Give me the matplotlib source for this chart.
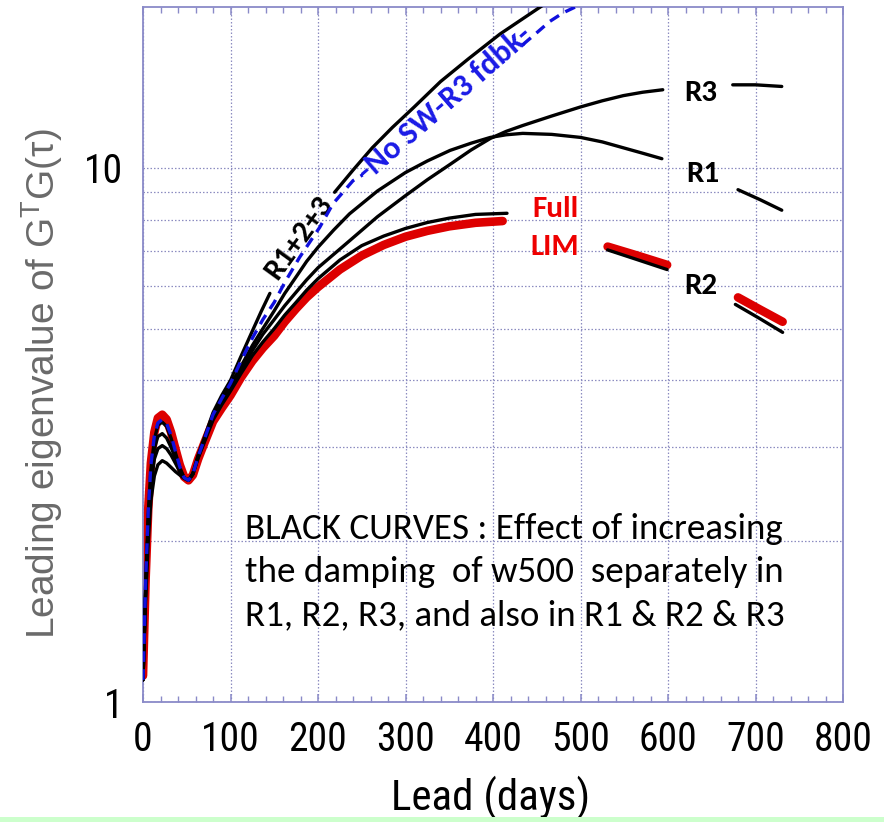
import numpy as np
import matplotlib
matplotlib.use("Agg")
import matplotlib.pyplot as plt
from matplotlib import font_manager
from matplotlib.ticker import FixedLocator, NullFormatter, FixedFormatter
from matplotlib.patches import Rectangle

nan = np.nan

# ---------------- data ----------------
full_x = [0, 3, 6, 9, 13, 17, 22, 27, 32, 37, 42, 47, 52, 57, 63, 70, 80, 90, 100, 112, 125, 137,
          150, 162, 175, 187, 200, 225, 250, 275, 300, 325, 350, 380, 411,
          470, 531, 565, 599, 640, 680, 705, 731]
full_y = [1.12, 1.7, 2.3, 2.8, 3.2, 3.4, 3.45, 3.38, 3.2, 2.98, 2.78, 2.64, 2.6, 2.66, 2.85, 3.05,
          3.35, 3.55, 3.75, 4.05, 4.35, 4.6, 4.85, 5.15, 5.45, 5.72, 5.98, 6.45, 6.85, 7.17, 7.43,
          7.62, 7.77, 7.89, 7.95, nan, 7.12, 6.85, 6.58, nan, 5.72, 5.43, 5.15]

r2_x = [0, 3, 6, 9, 13, 17, 22, 27, 32, 37, 42, 47, 52, 57, 63, 70, 80, 90, 100, 112, 125, 137,
        150, 162, 175, 187, 200, 225, 250, 275, 300, 325, 350, 380, 416,
        470, 531, 565, 599, 640, 677, 705, 731]
r2_y = [1.1, 1.65, 2.25, 2.72, 3.1, 3.3, 3.34, 3.28, 3.12, 2.93, 2.75, 2.63, 2.6, 2.67, 2.86, 3.06,
        3.37, 3.6, 3.82, 4.12, 4.45, 4.72, 5.0, 5.3, 5.6, 5.9, 6.2, 6.72, 7.15, 7.45, 7.7, 7.9,
        8.05, 8.18, 8.22, nan, 7.02, 6.73, 6.45, nan, 5.55, 5.22, 4.92]

r1_x = [0, 3, 6, 9, 13, 17, 22, 27, 32, 37, 42, 47, 52, 57, 63, 70, 80, 90, 100, 112, 125, 137,
        150, 162, 175, 187, 200, 218, 236, 268, 300, 325, 351, 375, 397, 415, 434, 467, 500, 525,
        549, 571, 593, 640, 680, 705, 730]
r1_y = [1.1, 1.6, 2.15, 2.55, 2.85, 2.98, 3.02, 2.98, 2.9, 2.8, 2.7, 2.63, 2.6, 2.67, 2.88, 3.1,
        3.42, 3.68, 3.92, 4.25, 4.65, 5.0, 5.4, 5.82, 6.25, 6.68, 7.1, 7.65, 8.2, 9.05, 9.8, 10.3,
        10.78, 11.12, 11.4, 11.53, 11.6, 11.55, 11.4, 11.18, 10.9, 10.65, 10.4, nan, 9.1, 8.72,
        8.33]

r3_x = [0, 3, 6, 9, 13, 17, 22, 27, 32, 37, 42, 47, 52, 57, 63, 70, 80, 90, 100, 112, 125, 137,
        150, 162, 175, 187, 200, 236, 268, 300, 325, 351, 375, 397, 415, 434, 467, 500, 525, 549,
        571, 594, 640, 674, 700, 730]
r3_y = [1.1, 1.62, 2.2, 2.62, 2.98, 3.14, 3.18, 3.12, 3.0, 2.86, 2.72, 2.63, 2.6, 2.67, 2.87, 3.08,
        3.4, 3.65, 3.86, 4.18, 4.55, 4.88, 5.2, 5.52, 5.85, 6.17, 6.5, 7.3, 8.1, 8.87, 9.5, 10.15,
        10.8, 11.35, 11.7, 12.0, 12.5, 13.0, 13.35, 13.65, 13.85, 14.0, nan, 14.3, 14.3, 14.2]

r123_x = [0, 3, 6, 9, 13, 17, 22, 27, 32, 37, 42, 47, 52, 57, 63, 70, 80, 90, 100, 111, 125, 135,
          145, 180, 219, 240, 262, 285, 310, 340, 372, 408, 454, 462]
r123_y = [1.1, 1.55, 2.0, 2.38, 2.65, 2.78, 2.83, 2.8, 2.75, 2.7, 2.66, 2.62, 2.6, 2.68, 2.9, 3.12,
          3.48, 3.75, 4.0, 4.4, 4.95, 5.38, 5.82, nan, 9.0, 9.9, 10.9, 11.9, 13.0, 14.5, 16.0,
          17.8, 20.0, 20.4]

nosw_x = [0, 3, 6, 9, 13, 17, 22, 27, 32, 37, 42, 47, 52, 57, 63, 70, 80, 90, 100, 112, 125, 137,
          150, 162, 179, 202, 217, 240, 251, 340, 434, 450, 465, 480, 494, 500]
nosw_y = [1.1, 1.68, 2.28, 2.78, 3.15, 3.33, 3.38, 3.32, 3.16, 2.95, 2.76, 2.63, 2.6, 2.67, 2.88,
          3.1, 3.45, 3.7, 3.95, 4.35, 4.8, 5.2, 5.6, 6.1, 6.8, 7.74, 8.56, 9.46, 9.7, nan, 17.0,
          17.9, 18.8, 19.5, 20.0, 20.4]

x_ticks = [0, 100, 200, 300, 400, 500, 600, 700, 800]
y_ticks = [1, 10]
y_tick_labels = ["1", "10"]


# ---------------- fonts ----------------
names = {f.name for f in font_manager.fontManager.ttflist}


def pick(cands, default):
    for c in cands:
        if c in names:
            return c
    return default


narrow = pick(["Liberation Sans Narrow", "Arial Narrow", "Roboto Condensed", "Archivo Narrow",
               "PT Sans Narrow", "Open Sans Condensed", "IBM Plex Sans Condensed",
               "Fira Sans Condensed", "Encode Sans Condensed"], "DejaVu Sans")
calib = pick(["Carlito", "Lato"], "DejaVu Sans")
scale = 1.12 if calib == "Carlito" else 1.0

W, H = 884, 822
fig = plt.figure(figsize=(W / 100, H / 100), dpi=100)
fig.patch.set_facecolor("white")
ax = fig.add_axes([143 / W, 120 / H, 700 / W, 695 / H])

spine_col = "#8a8ac8"
grid_col = "#8c8cc0"

ax.set_yscale("log")
ax.set_xlim(0, 800)
ax.set_ylim(1, 20)

ax.plot(full_x, full_y, color="#dd0000", lw=6.2, solid_capstyle="round",
        solid_joinstyle="round", zorder=2)
for xs, ys in [(r2_x, r2_y), (r1_x, r1_y), (r3_x, r3_y), (r123_x, r123_y)]:
    ax.plot(xs, ys, color="black", lw=2.4, solid_capstyle="round", solid_joinstyle="round",
            zorder=3)
ax.plot(nosw_x, nosw_y, color="#1010dd", lw=2.4, ls=(0, (3.2, 2.2)), zorder=4)

# grid / ticks
ax.xaxis.set_major_locator(FixedLocator(x_ticks))
ax.xaxis.set_minor_locator(FixedLocator([v for v in range(0, 801, 20) if v % 100]))
ax.yaxis.set_major_locator(FixedLocator(y_ticks))
ax.yaxis.set_major_formatter(FixedFormatter(y_tick_labels))
ax.yaxis.set_minor_locator(FixedLocator([2, 3, 4, 5, 6, 7, 8, 9]))
ax.yaxis.set_minor_formatter(NullFormatter())
ax.grid(True, which="major", axis="both", color=grid_col, ls=(0, (1.2, 1.6)), lw=0.9)
ax.grid(True, which="minor", axis="y", color=grid_col, ls=(0, (1.2, 1.6)), lw=0.9)
ax.set_axisbelow(True)

for s in ax.spines.values():
    s.set_color(spine_col)
    s.set_linewidth(1.3)

ax.tick_params(axis="x", which="both", direction="in", top=True, bottom=True, color=spine_col)
ax.tick_params(axis="x", which="major", length=6, width=1.1, pad=13)
ax.tick_params(axis="x", which="minor", length=4, width=1.0)
ax.tick_params(axis="y", which="both", length=0, pad=14)

for lab in ax.get_xticklabels() + ax.get_yticklabels():
    lab.set_fontfamily(narrow)
    lab.set_fontsize(28.5)
    lab.set_color("black")

ax.set_xlabel("Lead (days)", fontsize=31, family=narrow, color="black")
ax.xaxis.set_label_coords(0.496, -0.106)
ax.xaxis.label.set_va("top")

fig.text(42 / W, 1 - 384 / H, "Leading eigenvalue of G$^{\\mathregular{T}}$G(τ)",
         rotation=90, ha="center", va="center", fontsize=28, color="#6a6a6a",
         family="Liberation Sans")

# curve labels
bold = dict(family=calib, fontweight="bold")
ax.text(637, 13.8, "R3", fontsize=20 * scale, color="black", ha="center", va="center", **bold)
ax.text(640, 9.75, "R1", fontsize=20 * scale, color="black", ha="center", va="center", **bold)
ax.text(637, 6.0, "R2", fontsize=20 * scale, color="black", ha="center", va="center", **bold)
ax.text(471, 8.39, "Full", fontsize=20 * scale, color="#ee0000", ha="center", va="center",
        **bold)
ax.text(471, 7.1, "LIM", fontsize=20 * scale, color="#ee0000", ha="center", va="center",
        **bold)
ax.text(178, 7.4, "R1+2+3", fontsize=20 * scale, color="black", ha="center", va="center",
        rotation=54, rotation_mode="anchor", **bold)
ax.text(345, 13.2, "-No SW-R3 fdbk-", fontsize=20.5 * scale, color="#1a1ae6", ha="center",
        va="center", rotation=41, rotation_mode="anchor", **bold)

ax.text(0.1457, 0.272,
        "BLACK CURVES : Effect of increasing\nthe damping  of w500  separately in\n"
        "R1, R2, R3, and also in R1 & R2 & R3",
        transform=ax.transAxes, ha="left", va="top", fontsize=23.8 * scale, family=calib,
        color="black", linespacing=1.42)

# light green strip at the bottom
fig.patches.append(Rectangle((0, 0), 1, 5 / H, transform=fig.transFigure,
                             facecolor="#ccffcc", edgecolor="none", zorder=0))

fig.savefig("out.png", dpi=100)
